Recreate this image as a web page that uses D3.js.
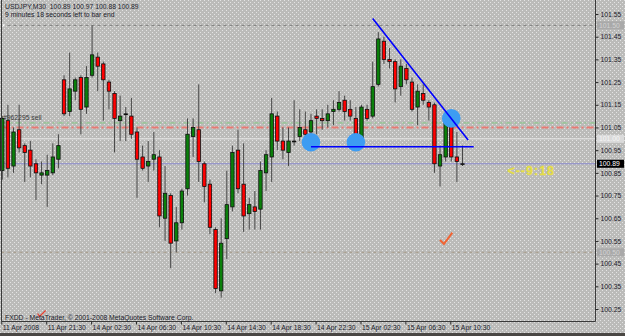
<!DOCTYPE html>
<html>
<head>
<meta charset="utf-8">
<script src="https://cdn.jsdelivr.net/npm/d3@7/dist/d3.min.js"></script>
<style>
	body { margin: 0; background: #bfbfbd; }
	svg { display: block; font-family: "Liberation Sans", Arial, sans-serif; }
</style>
</head>
<body>
<div id="chart"></div>
<script>
	// USDJPY M30 bars, oldest first (index 0 = 11 Apr 17:30)
	var opens = [
		100.86, 101.08, 100.88, 101.04, 100.97, 100.95, 100.89, 100.84, 100.84, 100.85,
		100.91, 101.26, 101.12, 101.21, 101.27, 101.14, 101.28, 101.36, 101.33, 101.25,
		101.20, 101.08, 101.11, 101.10, 101.03, 100.92, 100.88, 100.91, 100.92, 100.65,
		100.75, 100.55, 100.63, 100.78, 101.01, 101.04, 100.89, 100.80, 100.60, 100.33,
		100.56, 100.70, 100.95, 100.80, 100.67, 100.70, 100.69, 100.85, 100.92, 101.10,
		100.99, 100.94, 100.99, 101.01, 101.04, 101.03, 101.10, 101.09, 101.08, 101.12,
		101.13, 101.17, 101.13, 101.09, 100.99, 101.13, 101.10, 101.24, 101.43, 101.35,
		101.34, 101.23, 101.31, 101.25, 101.14, 101.20, 101.16, 101.15, 100.88, 100.92,
		101.07, 100.92, 100.89];
	var highs = [
		101.10, 101.15, 101.05, 101.15, 100.98, 100.99, 100.91, 100.90, 100.93, 100.98,
		101.02, 101.28, 101.38, 101.27, 101.28, 101.32, 101.50, 101.38, 101.34, 101.26,
		101.21, 101.19, 101.14, 101.18, 101.05, 100.97, 100.99, 101.03, 100.95, 100.88,
		100.76, 100.70, 100.78, 101.09, 101.09, 101.24, 100.90, 100.82, 100.61, 100.65,
		100.86, 100.97, 101.04, 100.98, 100.74, 100.77, 100.90, 100.95, 101.18, 101.12,
		101.05, 101.05, 101.17, 101.13, 101.12, 101.11, 101.13, 101.13, 101.15, 101.17,
		101.21, 101.19, 101.17, 101.14, 101.15, 101.15, 101.34, 101.47, 101.45, 101.40,
		101.35, 101.35, 101.33, 101.27, 101.24, 101.24, 101.17, 101.16, 100.97, 101.11,
		101.09, 101.03, 100.97];
	var lows = [
		100.82, 100.83, 100.85, 100.94, 100.81, 100.83, 100.73, 100.80, 100.70, 100.84,
		100.87, 101.10, 101.10, 101.17, 101.02, 101.11, 101.27, 101.21, 101.08, 101.13,
		100.94, 100.99, 100.99, 101.00, 100.74, 100.86, 100.81, 100.86, 100.61, 100.55,
		100.43, 100.50, 100.60, 100.75, 100.92, 100.81, 100.72, 100.58, 100.32, 100.30,
		100.47, 100.68, 100.76, 100.59, 100.60, 100.60, 100.60, 100.77, 100.81, 100.95,
		100.91, 100.88, 100.97, 100.99, 100.99, 100.97, 101.02, 101.04, 101.05, 101.06,
		101.12, 101.08, 101.08, 100.97, 100.98, 101.08, 101.09, 101.23, 101.33, 101.31,
		101.16, 101.19, 101.24, 101.12, 101.06, 101.15, 101.08, 100.85, 100.79, 100.90,
		100.90, 100.81, 100.88];
	var closes = [
		101.09, 100.87, 101.03, 100.96, 100.94, 100.88, 100.85, 100.85, 100.86, 100.92,
		100.97, 101.11, 101.22, 101.26, 101.13, 101.27, 101.37, 101.32, 101.26, 101.21,
		101.09, 101.10, 101.11, 101.02, 100.91, 100.87, 100.90, 100.93, 100.66, 100.76,
		100.54, 100.63, 100.77, 101.02, 101.05, 100.90, 100.79, 100.61, 100.34, 100.54,
		100.71, 100.94, 100.78, 100.66, 100.71, 100.68, 100.86, 100.93, 101.11, 100.99,
		100.95, 100.99, 100.99, 101.05, 101.02, 101.08, 101.09, 101.08, 101.11, 101.13,
		101.16, 101.12, 101.10, 101.00, 101.14, 101.09, 101.23, 101.44, 101.35, 101.34,
		101.22, 101.32, 101.26, 101.13, 101.21, 101.17, 101.14, 100.89, 100.93, 101.08,
		100.92, 100.90, 100.89];

	var timeIdx = [0, 8, 16, 24, 32, 40, 48, 56, 64, 72, 80];
	var timeText = ["11 Apr 2008", "11 Apr 21:30", "14 Apr 02:30", "14 Apr 06:30", "14 Apr 10:30",
		"14 Apr 14:30", "14 Apr 18:30", "14 Apr 22:30", "15 Apr 02:30", "15 Apr 06:30", "15 Apr 10:30"];
	var priceTicks = [101.55, 101.45, 101.35, 101.25, 101.15, 101.05, 100.95, 100.85, 100.75, 100.65, 100.55, 100.45, 100.35, 100.25];

	// levels
	var bidPrice = 100.89, askPrice = 101.00;
	var orderPrice = 101.05, tpPrice = 101.07;
	var upperLevel = 101.50, lowerLevel = 100.50;

	// drawn objects: [bar index, price]
	var trendPoints = [[66, 101.53], [83, 100.995]];
	var supportPoints = [[55, 100.965], [84, 100.965]];
	var circlePoints = [[55, 100.985], [63, 100.985], [80, 101.09]];

	var width = 625, height = 336;
	var plotLeft = 1.5, plotRight = 595.5, plotBottom = 321.5;

	var x = d3.scaleLinear().domain([0, 82]).range([2.3, 462.5]);
	var y = d3.scaleLinear().domain([100.25, 101.55]).range([309, 14]);

	var bars = d3.range(opens.length).map(function (i) {
		return { i: i, o: opens[i], h: highs[i], l: lows[i], c: closes[i] };
	});

	var svg = d3.select("#chart").append("svg")
		.attr("width", width)
		.attr("height", height);

	// dithered grey background
	var pat = svg.append("defs").append("pattern")
		.attr("id", "dots")
		.attr("width", 4).attr("height", 4)
		.attr("patternUnits", "userSpaceOnUse");
	pat.append("rect").attr("width", 4).attr("height", 4).attr("fill", "#bbbbb9");
	pat.append("rect").attr("x", 0).attr("y", 0).attr("width", 1).attr("height", 1).attr("fill", "#e4e4e4");
	pat.append("rect").attr("x", 2).attr("y", 2).attr("width", 1).attr("height", 1).attr("fill", "#e4e4e4");

	svg.append("rect")
		.attr("width", width).attr("height", height)
		.attr("fill", "url(#dots)");

	var plot = svg.append("g");

	// horizontal levels
	plot.append("line")
		.attr("x1", plotLeft).attr("x2", plotRight)
		.attr("y1", y(upperLevel)).attr("y2", y(upperLevel))
		.attr("stroke", "#7c7c7c").attr("stroke-dasharray", "3,3");
	plot.append("rect")
		.attr("x", 2.5).attr("y", y(upperLevel) - 1)
		.attr("width", 2).attr("height", 2).attr("fill", "#ffffff");

	plot.append("line")
		.attr("x1", plotLeft).attr("x2", plotRight)
		.attr("y1", y(lowerLevel)).attr("y2", y(lowerLevel))
		.attr("stroke", "#a39884").attr("stroke-dasharray", "3,3");

	plot.append("line")
		.attr("x1", plotLeft).attr("x2", plotRight)
		.attr("y1", y(tpPrice)).attr("y2", y(tpPrice))
		.attr("stroke", "#84c884").attr("stroke-dasharray", "6,3,2,3");

	plot.append("line")
		.attr("x1", plotLeft).attr("x2", plotRight)
		.attr("y1", y(orderPrice)).attr("y2", y(orderPrice))
		.attr("stroke", "#e87a72").attr("stroke-width", 2).attr("stroke-dasharray", "7,3,2,3");

	plot.append("line")
		.attr("x1", plotLeft).attr("x2", plotRight)
		.attr("y1", y(askPrice)).attr("y2", y(askPrice))
		.attr("stroke", "#e6e6e6");

	plot.append("line")
		.attr("x1", plotLeft).attr("x2", plotRight)
		.attr("y1", y(bidPrice)).attr("y2", y(bidPrice))
		.attr("stroke", "#8a8ad0");

	plot.append("text")
		.attr("x", 3).attr("y", y(orderPrice) - 7)
		.attr("font-size", 6.8)
		.attr("fill", "#3a3a3a")
		.text("#962295 sell");

	///Candles
	plot.selectAll(".wick")
		.data(bars)
		.enter().append("line")
		.attr("class", "wick")
		.attr("x1", function (d) { return x(d.i); })
		.attr("x2", function (d) { return x(d.i); })
		.attr("y1", function (d) { return y(d.h); })
		.attr("y2", function (d) { return y(d.l); })
		.attr("stroke", "#474747")
		.attr("stroke-width", 1);

	plot.selectAll(".body")
		.data(bars)
		.enter().append("rect")
		.attr("class", "body")
		.attr("x", function (d) { return x(d.i) - 1.7; })
		.attr("width", 3.4)
		.attr("y", function (d) { return y(Math.max(d.o, d.c)); })
		.attr("height", function (d) { return Math.max(0.8, Math.abs(y(d.o) - y(d.c))); })
		.attr("fill", function (d) {
			if (d.c > d.o) return "#0b800b";
			else if (d.c < d.o) return "#ff0000";
			else return "#202020";
		})
		.attr("stroke", "#101010")
		.attr("stroke-width", 0.8);

	// blue drawn objects
	plot.selectAll(".mark")
		.data(circlePoints)
		.enter().append("circle")
		.attr("class", "mark")
		.attr("cx", function (d) { return x(d[0]); })
		.attr("cy", function (d) { return y(d[1]); })
		.attr("r", 9.3)
		.attr("fill", "#3d9cf2");

	plot.append("line")
		.attr("x1", x(trendPoints[0][0])).attr("y1", y(trendPoints[0][1]))
		.attr("x2", x(trendPoints[1][0])).attr("y2", y(trendPoints[1][1]))
		.attr("stroke", "#0000ff").attr("stroke-width", 1.6);

	plot.append("line")
		.attr("x1", x(supportPoints[0][0])).attr("y1", y(supportPoints[0][1]))
		.attr("x2", x(supportPoints[1][0])).attr("y2", y(supportPoints[1][1]))
		.attr("stroke", "#0000ff").attr("stroke-width", 1.6);

	// timer text and ticks
	plot.append("text")
		.attr("x", x(90)).attr("y", y(100.84))
		.attr("font-size", 12.5)
		.attr("font-weight", "bold")
		.attr("letter-spacing", 1)
		.attr("fill", "#e6de48")
		.attr("stroke", "#e6de48")
		.attr("stroke-width", 0.3)
		.text("<--9:18");

	plot.append("path")
		.attr("transform", "translate(" + x(79) + "," + y(100.56) + ")")
		.attr("d", "M-5.7,1.3L-1.7,5.3L6.7,-6")
		.attr("fill", "none")
		.attr("stroke", "#f06434").attr("stroke-width", 2);

	plot.append("path")
		.attr("transform", "translate(" + x(7) + "," + y(100.23) + ")")
		.attr("d", "M-4,0L-2,3L4,-3")
		.attr("fill", "none")
		.attr("stroke", "#e84030").attr("stroke-width", 1.2);

	// frame
	svg.append("path")
		.attr("d", "M" + plotLeft + ",0V" + plotBottom + "H" + plotRight + "V0")
		.attr("fill", "none")
		.attr("stroke", "#3a3a3a");

	//Create Y axis
	var yAxis = svg.append("g")
		.attr("transform", "translate(" + plotRight + ",0)")
		.call(d3.axisRight(y).tickValues(priceTicks).tickFormat(d3.format(".2f")).tickSize(3).tickPadding(2));
	yAxis.select(".domain").remove();
	yAxis.selectAll("line").attr("stroke", "#2a2a2a");
	yAxis.selectAll("text")
		.attr("font-size", 6.8)
		.attr("font-family", "Liberation Sans, Arial, sans-serif")
		.attr("fill", "#1c1c2c");

	//Create X axis
	var xAxis = svg.append("g")
		.attr("transform", "translate(-1," + plotBottom + ")")
		.call(d3.axisBottom(x).tickValues(timeIdx).tickFormat(function (d, i) { return timeText[i]; }).tickSize(3));
	xAxis.select(".domain").remove();
	xAxis.selectAll("line").attr("stroke", "#2a2a2a");
	xAxis.selectAll("text")
		.attr("text-anchor", "start")
		.attr("x", 1)
		.attr("y", 3.5)
		.attr("font-size", 6.8)
		.attr("font-family", "Liberation Sans, Arial, sans-serif")
		.attr("fill", "#1c1c2c");

	// price boxes on the scale
	function priceBox(p, bg, fg) {
		svg.append("rect")
			.attr("x", plotRight + 1.5).attr("y", y(p) - 4)
			.attr("width", 27).attr("height", 8)
			.attr("fill", bg);
		svg.append("text")
			.attr("x", plotRight + 3.5).attr("y", y(p))
			.attr("dy", "0.35em")
			.attr("font-size", 6.8)
			.attr("fill", fg)
			.text(d3.format(".2f")(p));
	}
	priceBox(upperLevel, "#a9a9a9", "#d4d4d4");
	priceBox(askPrice, "#dadada", "#f6f6f6");
	priceBox(lowerLevel, "#a9a9a9", "#d4d4d4");
	priceBox(bidPrice, "#000000", "#ffffff");

	// header + footer
	svg.append("text")
		.attr("x", 5).attr("y", 9)
		.attr("font-size", 6.8).attr("fill", "#1c1c2c")
		.attr("xml:space", "preserve")
		.text("USDJPY,M30  " + [opens[82], highs[82], lows[82], closes[82]].map(d3.format(".2f")).join(" "));
	svg.append("text")
		.attr("x", 5).attr("y", 16.5)
		.attr("font-size", 6.8).attr("fill", "#1c1c2c")
		.text("9 minutes 18 seconds left to bar end");
	svg.append("text")
		.attr("x", 5).attr("y", 319.5)
		.attr("font-size", 6.8).attr("fill", "#1c1c2c")
		.text("FXDD - MetaTrader, \u00a9 2001-2008 MetaQuotes Software Corp.");

	svg.append("rect")
		.attr("x", 0).attr("y", 333)
		.attr("width", width).attr("height", 3)
		.attr("fill", "#4a4744");
</script>
</body>
</html>
